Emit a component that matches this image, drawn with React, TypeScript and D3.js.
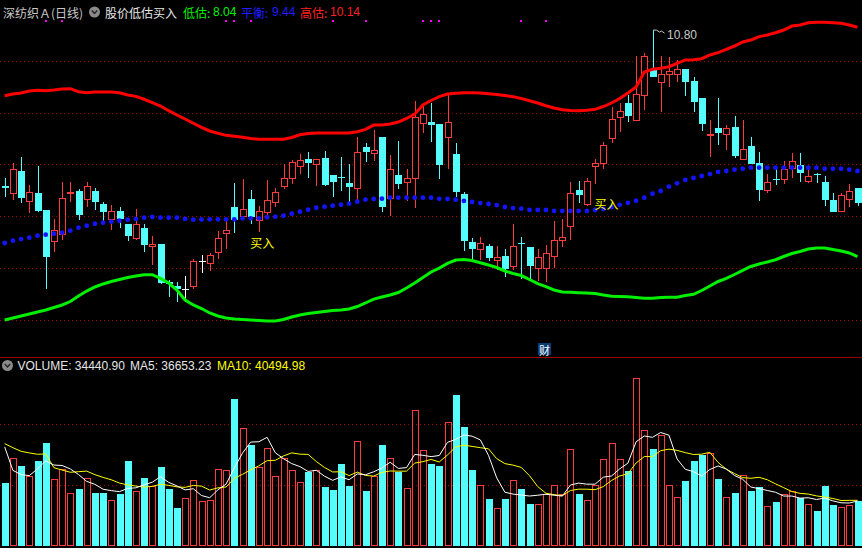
import React from 'react';
import * as d3 from 'd3';

const W = 862;
const H = 548;

const opens = [
  9.30, 9.23, 9.45, 9.16, 9.23, 9.07, 8.77, 8.84, 9.23, 9.25,
  9.18, 9.25, 9.13, 8.98, 9.06, 8.94, 8.80, 8.90, 8.72, 8.74,
  8.38, 8.34, 8.31, 8.34, 8.58, 8.56, 8.67, 8.85, 9.10, 9.01,
  9.18, 8.97, 9.05, 9.15, 9.30, 9.38, 9.49, 9.56, 9.51, 9.57,
  9.41, 9.39, 9.33, 9.28, 9.68, 9.62, 9.77, 9.19, 9.41, 9.34,
  9.38, 9.91, 9.92, 9.90, 9.77, 9.61, 9.22, 8.76, 8.70, 8.72,
  8.59, 8.63, 8.53, 8.75, 8.71, 8.51, 8.51, 8.63, 8.78, 8.92,
  9.26, 9.13, 9.49, 9.52, 9.76, 9.96, 10.10, 9.94, 10.18, 10.42,
  10.30, 10.38, 10.38, 10.43, 10.31, 10.15, 9.79, 9.86, 9.80, 9.87,
  9.56, 9.69, 9.52, 9.26, 9.37, 9.37, 9.47, 9.50, 9.35, 9.42,
  9.34, 9.17, 9.06, 9.18, 9.28,
];
const highs = [
  9.38, 9.52, 9.58, 9.31, 9.49, 9.07, 8.98, 9.34, 9.34, 9.27,
  9.34, 9.28, 9.15, 9.12, 9.10, 8.94, 9.08, 8.94, 8.82, 8.74,
  8.40, 8.38, 8.44, 8.60, 8.64, 8.66, 8.87, 8.96, 9.33, 9.37,
  9.26, 9.11, 9.36, 9.28, 9.51, 9.55, 9.61, 9.63, 9.56, 9.64,
  9.41, 9.58, 9.51, 9.77, 9.71, 9.84, 9.77, 9.60, 9.73, 9.46,
  10.12, 10.08, 10.10, 9.90, 10.18, 9.71, 9.24, 8.80, 8.81, 8.74,
  8.72, 8.70, 8.94, 8.81, 8.71, 8.70, 8.73, 8.96, 8.98, 9.34,
  9.35, 9.38, 9.56, 9.72, 10.06, 10.10, 10.18, 10.55, 10.58, 10.80,
  10.55, 10.54, 10.51, 10.43, 10.35, 10.15, 9.94, 10.15, 9.89, 9.97,
  9.94, 9.77, 9.63, 9.42, 9.46, 9.54, 9.62, 9.62, 9.46, 9.43,
  9.40, 9.23, 9.23, 9.32, 9.28,
];
const lows = [
  9.20, 9.17, 9.14, 9.04, 9.05, 8.31, 8.67, 8.78, 9.15, 8.97,
  9.10, 9.07, 8.96, 8.88, 8.90, 8.77, 8.78, 8.67, 8.54, 8.36,
  8.23, 8.19, 8.19, 8.31, 8.46, 8.48, 8.60, 8.70, 8.85, 8.99,
  8.94, 8.86, 9.00, 9.10, 9.27, 9.32, 9.42, 9.38, 9.30, 9.30,
  9.20, 9.25, 9.15, 9.17, 9.53, 9.54, 9.05, 9.01, 9.27, 9.16,
  9.09, 9.81, 9.72, 9.37, 9.46, 9.20, 8.68, 8.57, 8.59, 8.58,
  8.49, 8.43, 8.49, 8.41, 8.39, 8.39, 8.38, 8.51, 8.71, 8.78,
  9.14, 9.11, 9.32, 9.46, 9.71, 9.82, 9.92, 9.94, 10.03, 10.35,
  10.01, 10.25, 10.30, 10.17, 10.01, 9.83, 9.58, 9.70, 9.65, 9.57,
  9.56, 9.51, 9.16, 9.23, 9.31, 9.32, 9.38, 9.34, 9.33, 9.33,
  9.11, 9.05, 9.05, 9.10, 9.11,
];
const closes = [
  9.28, 9.46, 9.19, 9.24, 9.06, 8.62, 8.88, 9.19, 9.24, 9.02,
  9.30, 9.15, 9.05, 9.06, 8.98, 8.82, 8.94, 8.73, 8.74, 8.37,
  8.36, 8.31, 8.31, 8.58, 8.58, 8.64, 8.80, 8.88, 8.97, 9.08,
  9.00, 9.06, 9.17, 9.24, 9.38, 9.53, 9.55, 9.52, 9.56, 9.31,
  9.34, 9.38, 9.29, 9.63, 9.63, 9.65, 9.10, 9.46, 9.32, 9.38,
  9.96, 9.99, 9.89, 9.50, 9.92, 9.24, 8.77, 8.70, 8.75, 8.61,
  8.62, 8.50, 8.72, 8.74, 8.53, 8.62, 8.66, 8.78, 8.81, 9.23,
  9.21, 9.35, 9.52, 9.70, 9.95, 10.02, 9.97, 10.19, 10.55, 10.35,
  10.38, 10.41, 10.43, 10.30, 10.11, 9.90, 9.80, 9.81, 9.86, 9.59,
  9.66, 9.51, 9.26, 9.34, 9.36, 9.46, 9.54, 9.43, 9.40, 9.41,
  9.17, 9.05, 9.21, 9.25, 9.14,
];

const upperBand = [
  10.169, 10.186, 10.195, 10.214, 10.221, 10.217, 10.224, 10.234, 10.237, 10.208,
  10.198, 10.205, 10.205, 10.205, 10.198, 10.176, 10.163, 10.135, 10.102, 10.070,
  10.025, 9.984, 9.945, 9.904, 9.865, 9.830, 9.808, 9.788, 9.779, 9.769,
  9.758, 9.750, 9.750, 9.750, 9.750, 9.767, 9.794, 9.806, 9.811, 9.811,
  9.811, 9.811, 9.811, 9.823, 9.846, 9.887, 9.887, 9.897, 9.916, 9.950,
  9.993, 10.080, 10.123, 10.161, 10.186, 10.192, 10.198, 10.198, 10.195, 10.188,
  10.181, 10.171, 10.160, 10.142, 10.121, 10.099, 10.073, 10.051, 10.035, 10.027,
  10.025, 10.029, 10.038, 10.065, 10.099, 10.142, 10.195, 10.253, 10.397, 10.423,
  10.433, 10.448, 10.481, 10.513, 10.515, 10.525, 10.561, 10.583, 10.615, 10.647,
  10.686, 10.705, 10.737, 10.753, 10.775, 10.801, 10.839, 10.849, 10.871, 10.875,
  10.875, 10.871, 10.865, 10.849, 10.827,
];
const midLine = [
  8.753, 8.775, 8.791, 8.804, 8.823, 8.833, 8.842, 8.852, 8.871, 8.900,
  8.919, 8.938, 8.948, 8.958, 8.967, 8.977, 8.984, 8.996, 9.003, 8.996,
  8.996, 8.996, 8.984, 8.977, 8.979, 8.981, 8.981, 8.981, 8.981, 8.990,
  8.990, 8.990, 9.000, 9.006, 9.015, 9.035, 9.054, 9.073, 9.092, 9.102,
  9.112, 9.121, 9.131, 9.150, 9.169, 9.176, 9.179, 9.189, 9.189, 9.189,
  9.189, 9.189, 9.189, 9.178, 9.176, 9.169, 9.157, 9.147, 9.137, 9.128,
  9.118, 9.099, 9.089, 9.083, 9.070, 9.070, 9.070, 9.061, 9.061, 9.061,
  9.061, 9.061, 9.070, 9.080, 9.097, 9.120, 9.139, 9.159, 9.189, 9.227,
  9.253, 9.294, 9.327, 9.359, 9.378, 9.397, 9.416, 9.436, 9.445, 9.458,
  9.467, 9.477, 9.477, 9.477, 9.477, 9.477, 9.477, 9.477, 9.477, 9.477,
  9.467, 9.467, 9.467, 9.458, 9.445,
];
const lowerBand = [
  8.012, 8.032, 8.051, 8.070, 8.089, 8.109, 8.133, 8.157, 8.190, 8.243,
  8.291, 8.330, 8.359, 8.383, 8.402, 8.421, 8.436, 8.448, 8.448, 8.412,
  8.368, 8.301, 8.205, 8.157, 8.123, 8.080, 8.051, 8.032, 8.022, 8.017,
  8.012, 8.008, 8.003, 8.003, 8.017, 8.041, 8.061, 8.075, 8.085, 8.094,
  8.104, 8.109, 8.118, 8.142, 8.176, 8.214, 8.234, 8.253, 8.277, 8.320,
  8.368, 8.421, 8.474, 8.512, 8.556, 8.589, 8.594, 8.585, 8.563, 8.541,
  8.517, 8.484, 8.460, 8.440, 8.402, 8.363, 8.333, 8.301, 8.282, 8.279,
  8.275, 8.272, 8.267, 8.253, 8.240, 8.238, 8.237, 8.229, 8.221, 8.221,
  8.229, 8.231, 8.231, 8.248, 8.260, 8.296, 8.339, 8.383, 8.412, 8.450,
  8.490, 8.527, 8.551, 8.570, 8.592, 8.623, 8.652, 8.671, 8.695, 8.705,
  8.705, 8.690, 8.676, 8.657, 8.623,
];

const volumes = [
  51400, 72400, 65300, 57700, 69400, 84200, 55200, 63400, 43700, 46500,
  56000, 43200, 43200, 38000, 42400, 69400, 45400, 55500, 48900, 64500,
  46500, 30900, 39100, 53800, 36600, 37400, 63400, 62600, 120300, 97000,
  82500, 65000, 80600, 57100, 72400, 62600, 52700, 60700, 62000, 48100,
  45600, 67000, 48900, 85800, 44800, 57700, 82500, 72400, 60700, 47800,
  111800, 79000, 67000, 65300, 101900, 123500, 97300, 62000, 50300, 38300,
  31400, 38300, 54400, 46500, 34200, 34700, 42400, 50300, 42900, 79800,
  42400, 38000, 50300, 71600, 84700, 71600, 61200, 138000, 95400, 79300,
  91300, 50300, 40400, 53000, 69400, 74300, 76500, 54700, 40400, 43200,
  58500, 44800, 48100, 33100, 35800, 42900, 44800, 39600, 34700, 28400,
  48900, 33300, 31700, 33900, 36600,
];
// volumes of the nine sessions before the first visible bar (feed the moving averages)
const volumeHistory = [105400, 95300, 70700, 80400, 81200, 168400, 82800, 61700, 41700];

const priceGridValues = [10.5, 10.0, 9.51, 9.01, 8.51, 8.01];
const volumeGridValues = [50000, 100000];
const buySignalIdx = [30, 72];
const topMarkIdx = [5, 7, 27, 28, 30, 40, 44, 51, 52, 53, 63, 66];
const peakIdx = 79;
const peakLabel = '10.80';
const finIdx = 65;

const titleText = '深纺织Ａ(日线)';
const indicatorName = '股价低估买入';
const lowLabel = '低估:';
const lowValue = '8.04';
const midLabel = '平衡:';
const midValue = '9.44';
const highLabel = '高估:';
const highValue = '10.14';
const volText = 'VOLUME: 34440.90';
const ma5Text = 'MA5: 36653.23';
const ma10Text = 'MA10: 40494.98';

const RED = '#ff3c3c';
const CYAN = '#54fcfc';
const GRID = '#9a0000';
const FONT = "'Liberation Sans', 'Noto Sans CJK SC', sans-serif";
const CJK = "'Noto Sans CJK SC', sans-serif";

export default function App() {
  React.useEffect(() => {
    document.body.style.margin = '0';
    document.body.style.background = '#000';
  }, []);

  const n = closes.length;
  const idx = d3.range(n);
  const x = d3.scaleLinear().domain([0, n - 1]).range([4.7, 857.5]);
  const y = d3.scaleLinear().domain([8, 10.8]).range([321.3, 30.1]);
  const yv = d3.scaleLinear().domain([0, 150000]).range([546, 363]);

  const allVol = volumeHistory.concat(volumes);
  const off = volumeHistory.length;
  const ma = (k: number) => idx.map((i) => d3.mean(allVol.slice(i + off - k + 1, i + off + 1)) as number);
  const ma5 = ma(5);
  const ma10 = ma(10);

  const pLine = d3.line<number>().x((_, i) => x(i)).y((v) => y(v));
  const vLine = d3.line<number>().x((_, i) => x(i)).y((v) => yv(v));

  const bodyLeft = (i: number) => Math.round(x(i)) - 3;

  return (
    <svg width={W} height={H} style={{ position: 'absolute', left: 0, top: 0, background: '#000', display: 'block' }}>
      <rect x={0} y={0} width={W} height={H} fill="#000" />

      {/* price grid */}
      {priceGridValues.map((v) => (
        <line key={'pg' + v} x1={0} x2={W} y1={Math.round(y(v)) + 0.5} y2={Math.round(y(v)) + 0.5}
          stroke={GRID} strokeDasharray="1 3" strokeWidth={1} />
      ))}
      {/* volume grid */}
      {volumeGridValues.map((v) => (
        <line key={'vg' + v} x1={0} x2={W} y1={Math.round(yv(v)) + 0.5} y2={Math.round(yv(v)) + 0.5}
          stroke={GRID} strokeDasharray="1 3" strokeWidth={1} />
      ))}

      {/* header */}
      <g fontFamily={FONT} fontSize={12} dominantBaseline="central">
        <text x={3} y={12} fill="#c8c8c8" fontFamily={CJK}>{titleText}</text>
        <circle cx={94.5} cy={12} r={5.5} fill="#8a8a8a" />
        <path d="M91.8 10.6 L94.5 13.4 L97.2 10.6" fill="none" stroke="#222" strokeWidth={1.4} />
        <text x={105} y={12} fill="#e6e6e6" fontFamily={CJK}>{indicatorName}</text>
        <text x={183} y={12} fill="#00f000" fontFamily={CJK}>{lowLabel}</text>
        <text x={213} y={12} fill="#00f000">{lowValue}</text>
        <text x={241} y={12} fill="#1e1eff" fontFamily={CJK}>{midLabel}</text>
        <text x={272} y={12} fill="#1e1eff">{midValue}</text>
        <text x={300} y={12} fill="#ff2020" fontFamily={CJK}>{highLabel}</text>
        <text x={330} y={12} fill="#ff2020">{highValue}</text>
      </g>
      {topMarkIdx.map((i) => (
        <rect key={'tm' + i} x={Math.round(x(i)) - 1} y={20} width={2} height={2} fill="#ff00ff" />
      ))}

      {/* candles */}
      {idx.map((i) => {
        const o = opens[i], c = closes[i], h = highs[i], l = lows[i];
        const left = bodyLeft(i);
        const cx = left + 3.5;
        const yTop = Math.round(y(Math.max(o, c)));
        const yBot = Math.round(y(Math.min(o, c)));
        const yH = Math.round(y(h));
        const yL = Math.round(y(l));
        if (o === c) {
          return (
            <g key={'c' + i} stroke="#ffffff" strokeWidth={1}>
              <line x1={cx} x2={cx} y1={yH} y2={yL} />
              <line x1={left} x2={left + 7} y1={yTop + 0.5} y2={yTop + 0.5} />
            </g>
          );
        }
        if (c > o) {
          const hgt = Math.max(1, yBot - yTop);
          return (
            <g key={'c' + i} stroke={RED} strokeWidth={1} fill="none">
              <line x1={cx} x2={cx} y1={yH} y2={yTop} />
              <line x1={cx} x2={cx} y1={yBot} y2={yL} />
              <rect x={left + 0.5} y={yTop + 0.5} width={6} height={hgt} fill="#000" />
            </g>
          );
        }
        const hgt = Math.max(1, yBot - yTop);
        return (
          <g key={'c' + i}>
            <line x1={cx} x2={cx} y1={yH} y2={yL} stroke={CYAN} strokeWidth={1} />
            <rect x={left} y={yTop} width={7} height={hgt} fill={CYAN} />
          </g>
        );
      })}

      {/* bands */}
      <path d={pLine(upperBand) || ''} fill="none" stroke="#ff0000" strokeWidth={3} />
      <path d={pLine(lowerBand) || ''} fill="none" stroke="#00f000" strokeWidth={3} />
      {midLine.map((v, i) => (
        <circle key={'m' + i} cx={x(i)} cy={y(v)} r={2.4} fill="#1414ff" />
      ))}

      {/* peak marker */}
      <path d={`M${Math.round(x(peakIdx)) + 0.5} ${y(highs[peakIdx])} h3 l3 2 l2 -1 l3 2`} fill="none" stroke="#c8c8c8" strokeWidth={1} />
      <text x={Math.round(x(peakIdx)) + 14} y={y(highs[peakIdx]) + 5} fill="#c8c8c8" fontFamily={FONT} fontSize={12} dominantBaseline="central">{peakLabel}</text>

      {/* buy signals */}
      {buySignalIdx.map((i) => (
        <text key={'b' + i} x={x(i) - 0.5} y={y(lows[i]) + 19} fill="#ffff00" fontFamily={CJK} fontSize={12} dominantBaseline="central">买入</text>
      ))}

      {/* 财 marker */}
      <rect x={Math.round(x(finIdx))} y={343} width={13} height={12} fill="#0c3c78" />
      <text x={Math.round(x(finIdx)) + 6.5} y={349.5} fill="#ffffff" fontFamily={CJK} fontSize={11} textAnchor="middle" dominantBaseline="central">财</text>

      {/* panel separator */}
      <line x1={0} x2={W} y1={357.5} y2={357.5} stroke="#a00000" strokeWidth={1} />

      {/* volume header */}
      <circle cx={7.5} cy={365.5} r={5.5} fill="#8a8a8a" />
      <path d="M4.8 364.1 L7.5 366.9 L10.2 364.1" fill="none" stroke="#222" strokeWidth={1.4} />
      <g fontFamily={FONT} fontSize={12} dominantBaseline="central">
        <text x={17.5} y={365.5} fill="#e6e6e6">{volText}</text>
        <text x={130} y={365.5} fill="#e6e6e6">{ma5Text}</text>
        <text x={217} y={365.5} fill="#ffff00">{ma10Text}</text>
      </g>

      {/* volume bars */}
      {idx.map((i) => {
        const left = bodyLeft(i);
        const top = Math.round(yv(volumes[i]));
        const up = closes[i] >= opens[i];
        if (up) {
          return <rect key={'v' + i} x={left + 0.5} y={top + 0.5} width={6} height={546 - top - 1} fill="none" stroke={RED} strokeWidth={1} />;
        }
        return <rect key={'v' + i} x={left} y={top} width={7} height={546 - top} fill={CYAN} />;
      })}

      {/* volume MAs */}
      <path d={vLine(ma10) || ''} fill="none" stroke="#ffff00" strokeWidth={1} />
      <path d={vLine(ma5) || ''} fill="none" stroke="#ffffff" strokeWidth={1} />
    </svg>
  );
}
